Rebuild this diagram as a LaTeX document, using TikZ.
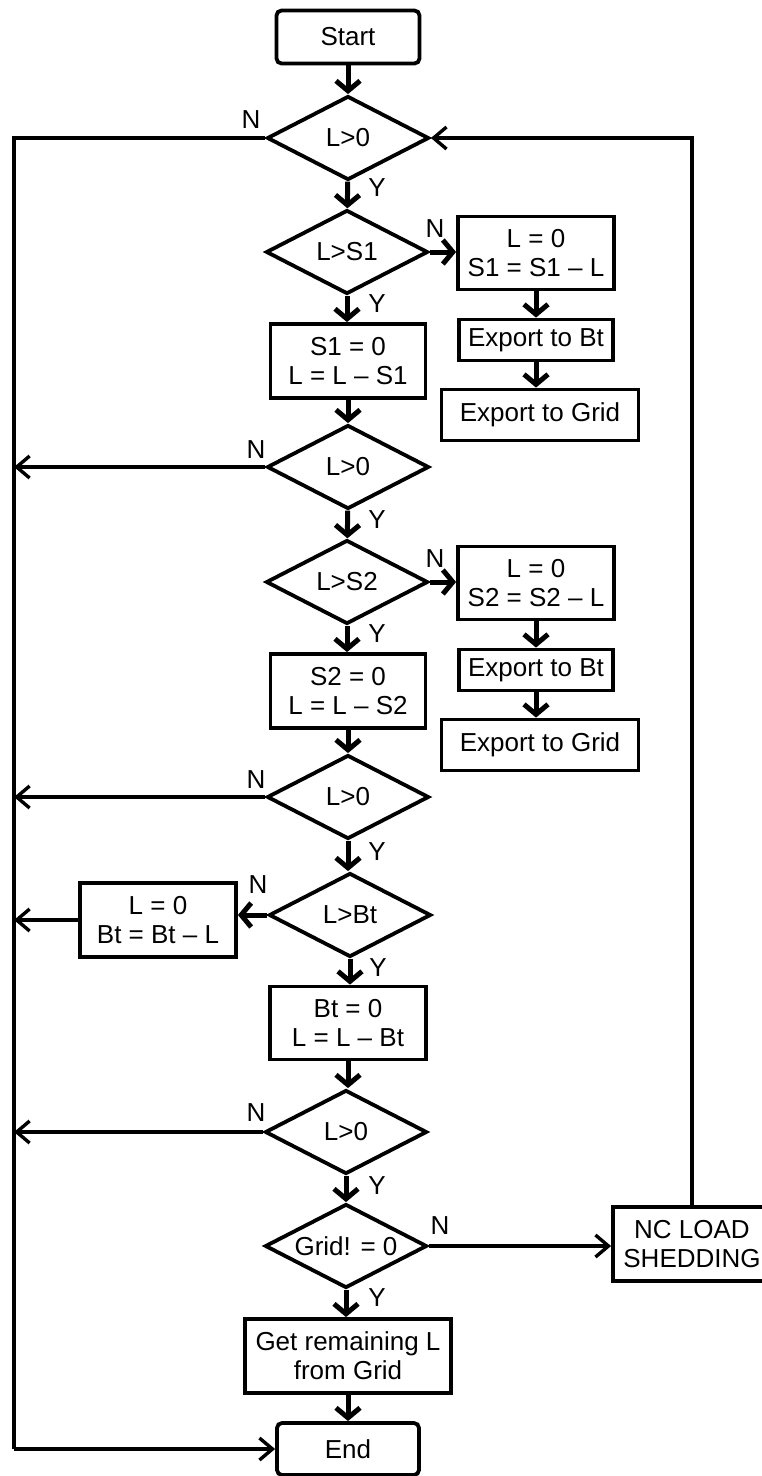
\documentclass[tikz,border=0pt]{standalone}
\usepackage{fontspec}
\setmainfont{Liberation Sans}
\usetikzlibrary{shapes.geometric,arrows.meta}
\begin{document}
\begin{tikzpicture}[x=1pt,y=-1pt,
  every node/.style={font=\fontsize{26}{29}\selectfont},
  box/.style={draw,line width=3.8pt,rectangle,align=center,inner sep=0pt},
  rbox/.style={box,rounded corners=5pt},
  dec/.style={draw,line width=3.8pt,diamond,inner sep=0pt,minimum width=162pt,minimum height=84pt,aspect=2},
  tarrow/.style={line width=5pt,-{Straight Barb[length=10pt,width=24pt,line width=5pt]}},
  larrow/.style={line width=3.4pt,-{Straight Barb[length=13pt,width=22pt,line width=3.4pt]}},
  lline/.style={line width=3.4pt},
  lab/.style={inner sep=0pt}]
\useasboundingbox (0,0) rectangle (761,1476);
% main column
\node[rbox,minimum width=143pt,minimum height=53pt] (start) at (348,37) {Start};
\node[dec] (d1) at (348,138) {L>0};
\node[dec] (d2) at (347,252) {L>S1};
\node[box,minimum width=156pt,minimum height=73pt] (s1) at (536,253) {L = 0\\S1 = S1 -- L};
\node[box,minimum width=154pt,minimum height=41pt] (eb1) at (536,340) {Export to Bt};
\node[box,minimum width=197pt,minimum height=51pt] (eg1) at (540,415) {Export to Grid};
\node[box,minimum width=155pt,minimum height=74pt] (a1) at (348,361) {S1 = 0\\L = L -- S1};
\node[dec] (d3) at (348,467) {L>0};
\node[dec] (d4) at (347,582) {L>S2};
\node[box,minimum width=156pt,minimum height=73pt] (s2) at (536,583) {L = 0\\S2 = S2 -- L};
\node[box,minimum width=154pt,minimum height=41pt] (eb2) at (536,670) {Export to Bt};
\node[box,minimum width=197pt,minimum height=51pt] (eg2) at (540,745) {Export to Grid};
\node[box,minimum width=155pt,minimum height=74pt] (a2) at (348,691) {S2 = 0\\L = L -- S2};
\node[dec] (d5) at (348,797) {L>0};
\node[dec] (d6) at (350,915) {L>Bt};
\node[box,minimum width=156pt,minimum height=74pt] (bt) at (158,920) {L = 0\\Bt = Bt -- L};
\node[box,minimum width=156pt,minimum height=73pt] (a3) at (348,1023) {Bt = 0\\L = L -- Bt};
\node[dec] (d7) at (346,1132) {L>0};
\node[dec] (d8) at (346,1246) {Grid! = 0};
\node[box,minimum width=158pt,minimum height=74pt] (nc) at (692,1244) {NC LOAD\\SHEDDING};
\node[box,minimum width=206pt,minimum height=74pt] (get) at (348,1356) {Get remaining L\\from Grid};
\node[rbox,minimum width=142pt,minimum height=52pt] (end) at (348,1449) {End};
\coordinate (rail) at (14,0);
% vertical flow
\draw[tarrow] (start) -- (d1);
\draw[tarrow] (d1) -- (d2);
\draw[tarrow] (d2) -- (a1.north -| d2);
\draw[tarrow] (a1) -- (d3);
\draw[tarrow] (d3) -- (d4);
\draw[tarrow] (d4) -- (a2.north -| d4);
\draw[tarrow] (a2) -- (d5);
\draw[tarrow] (d5) -- (d6.north -| d5);
\draw[tarrow] (d6.south) -- (a3.north -| d6.south);
\draw[tarrow] (a3) -- (d7.north -| a3);
\draw[tarrow] (d7) -- (d8);
\draw[tarrow] (d8) -- (get.north -| d8);
\draw[tarrow] (get) -- (end);
% right branches
\draw[tarrow] (d2.east) -- (d2.east -| s1.west);
\draw[tarrow] (s1) -- (eb1);
\draw[tarrow] (eb1.south) -- (eg1.north -| eb1.south);
\draw[tarrow] (d4.east) -- (d4.east -| s2.west);
\draw[tarrow] (s2) -- (eb2);
\draw[tarrow] (eb2.south) -- (eg2.north -| eb2.south);
\draw[tarrow] (d6.west) -- (d6.west -| bt.east);
% left rail
\draw[lline] (d1.west) -- (d1.west -| rail) -- (end.west -| rail);
\draw[larrow] (end.west -| rail) -- (end.west);
\draw[larrow] (d3.west) -- (d3.west -| rail);
\draw[larrow] (d5.west) -- (d5.west -| rail);
\draw[larrow] (bt.west) -- (bt.west -| rail);
\draw[larrow] (d7.west) -- (d7.west -| rail);
% NC branch and loop back
\draw[larrow] (d8.east) -- (d8.east -| nc.west);
\draw[larrow] (nc.north) -- (nc.north |- d1.east) -- (d1.east);
% labels
\node[lab] (n1) at (251,120) {N};
\node[lab] (y1) at (377,188) {Y};
\node[lab] (n2) at (435,229) {N};
\node[lab] (y2) at (377,304) {Y};
\node[lab] (n3) at (256,450) {N};
\node[lab] (y3) at (377,520) {Y};
\node[lab] (n4) at (435,559) {N};
\node[lab] (y4) at (377,634) {Y};
\node[lab] (n5) at (256,780) {N};
\node[lab] (y5) at (377,852) {Y};
\node[lab] (n6) at (258,885) {N};
\node[lab] (y6) at (378,968) {Y};
\node[lab] (n7) at (256,1113) {N};
\node[lab] (y7) at (377,1186) {Y};
\node[lab] (n8) at (440,1226) {N};
\node[lab] (y8) at (377,1298) {Y};
\end{tikzpicture}
\end{document}
